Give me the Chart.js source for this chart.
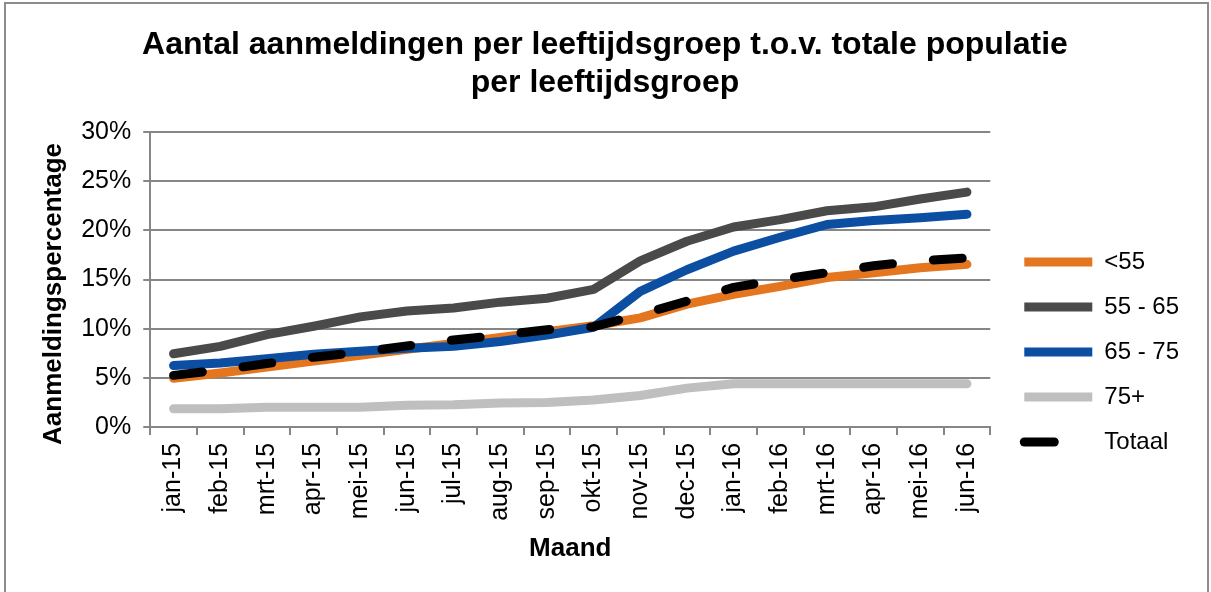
<!DOCTYPE html>
<html>
<head>
    <title>Aantal aanmeldingen per leeftijdsgroep</title>
    <meta charset="UTF-8">
    <script src="https://cdn.jsdelivr.net/npm/chart.js"></script>
    <style>
        body { margin: 0; background: #fff; }
        #frame {
            position: absolute; left: 4px; top: 2px; width: 1205px; height: 600px;
            border: 2px solid #8c8c8c; box-sizing: border-box;
        }
        #wrap { position: absolute; left: 0; top: 0; width: 1211px; height: 592px; }
    </style>
</head>
<body>
    <div id="frame"></div>
    <div id="wrap"><canvas id="chart" width="1211" height="592"></canvas></div>

    <script>
        // months along the x axis
        const months = ['jan-15', 'feb-15', 'mrt-15', 'apr-15', 'mei-15', 'jun-15', 'jul-15', 'aug-15', 'sep-15',
                        'okt-15', 'nov-15', 'dec-15', 'jan-16', 'feb-16', 'mrt-16', 'apr-16', 'mei-16', 'jun-16'];

        // percentages per age group
        const under55 = [4.95, 5.5, 6.1, 6.7, 7.3, 7.9, 8.5, 9.1, 9.7, 10.3, 11.1, 12.5, 13.5, 14.3, 15.2, 15.7, 16.2, 16.55];
        const g55to65 = [7.45, 8.2, 9.4, 10.25, 11.2, 11.8, 12.1, 12.7, 13.1, 14.0, 16.9, 18.9, 20.35, 21.1, 22.0, 22.4, 23.2, 23.9];
        const g65to75 = [6.25, 6.5, 6.95, 7.4, 7.7, 8.0, 8.2, 8.7, 9.35, 10.15, 13.8, 16.0, 17.9, 19.3, 20.6, 21.0, 21.3, 21.65];
        const over75  = [1.85, 1.85, 2.0, 2.0, 2.0, 2.2, 2.25, 2.45, 2.5, 2.75, 3.2, 3.95, 4.4, 4.4, 4.4, 4.4, 4.4, 4.4];
        const totaal  = [5.25, 5.8, 6.45, 7.1, 7.6, 8.25, 8.85, 9.35, 9.9, 10.2, 11.45, 12.8, 14.2, 15.0, 15.7, 16.4, 16.9, 17.2];

        const yTicks = [0, 5, 10, 15, 20, 25, 30];

        const font = 'Liberation Sans, Arial, sans-serif';
        const gridColor = '#868686';

        function lineSet(label, data, color, order, dash) {
            return {
                label: label,
                data: data,
                borderColor: color,
                backgroundColor: color,
                borderWidth: 9,
                borderDash: dash || [],
                borderCapStyle: 'round',
                borderJoinStyle: 'round',
                pointRadius: 0,
                tension: 0,
                order: order
            };
        }

        // nudge the legend: a bit right of the plot and lower, like the original
        const legendShift = {
            id: 'legendShift',
            afterLayout(chart) {
                const lg = chart.legend;
                lg.left += 13; lg.right += 13;
                lg.top += 68; lg.bottom += 68;
            }
        };

        new Chart(document.getElementById('chart'), {
            type: 'line',
            data: {
                labels: months,
                datasets: [
                    lineSet('<55', under55, '#e4761f', 4),
                    lineSet('55 - 65', g55to65, '#4a4a4a', 3),
                    lineSet('65 - 75', g65to75, '#0b4ea2', 2),
                    lineSet('75+', over75, '#bfbfbf', 1),
                    lineSet('Totaal', totaal, '#000000', 0, [29, 41])
                ]
            },
            plugins: [legendShift],
            options: {
                responsive: false,
                animation: false,
                layout: { padding: { left: 34, right: 35, top: 0, bottom: 24 } },
                plugins: {
                    title: {
                        display: true,
                        text: ['Aantal aanmeldingen per leeftijdsgroep t.o.v. totale populatie', 'per leeftijdsgroep'],
                        color: '#000',
                        font: { family: font, size: 32, weight: 'bold', lineHeight: 1.19 },
                        padding: { top: 26, bottom: 30 }
                    },
                    legend: {
                        position: 'right',
                        labels: {
                            color: '#000',
                            font: { family: font, size: 24 },
                            boxWidth: 68,
                            boxHeight: 0,
                            padding: 21,
                            generateLabels: (chart) => chart.data.datasets.map((ds, i) => ({
                                text: ds.label,
                                fillStyle: 'rgba(0,0,0,0)',
                                strokeStyle: ds.borderColor,
                                lineWidth: 9,
                                lineCap: 'round',
                                lineDash: ds.borderDash.length ? [30, 300] : [],
                                fontColor: '#000',
                                datasetIndex: i
                            }))
                        }
                    },
                    tooltip: { enabled: false }
                },
                scales: {
                    x: {
                        offset: true,
                        grid: {
                            offset: true,
                            drawOnChartArea: false,
                            drawTicks: true,
                            tickLength: 8,
                            color: gridColor,
                            lineWidth: 2
                        },
                        border: { color: gridColor, width: 2 },
                        ticks: {
                            color: '#000',
                            font: { family: font, size: 25 },
                            minRotation: 90,
                            maxRotation: 90,
                            autoSkip: false,
                            padding: 8
                        },
                        title: {
                            display: true,
                            text: 'Maand',
                            color: '#000',
                            font: { family: font, size: 26, weight: 'bold' },
                            padding: { top: 4 }
                        }
                    },
                    y: {
                        min: 0,
                        max: 30,
                        afterBuildTicks: (axis) => { axis.ticks = yTicks.map(v => ({ value: v })); },
                        grid: {
                            color: gridColor,
                            lineWidth: 2,
                            tickLength: 7
                        },
                        border: { color: gridColor, width: 2 },
                        ticks: {
                            color: '#000',
                            font: { family: font, size: 25 },
                            padding: 12,
                            callback: (v) => v + '%'
                        },
                        title: {
                            display: true,
                            // trailing spaces push the rotated title a little lower, as in the original
                            text: 'Aanmeldingspercentage    ',
                            color: '#000',
                            font: { family: font, size: 26, weight: 'bold' },
                            padding: { bottom: 0 }
                        }
                    }
                }
            }
        });
    </script>
</body>
</html>
